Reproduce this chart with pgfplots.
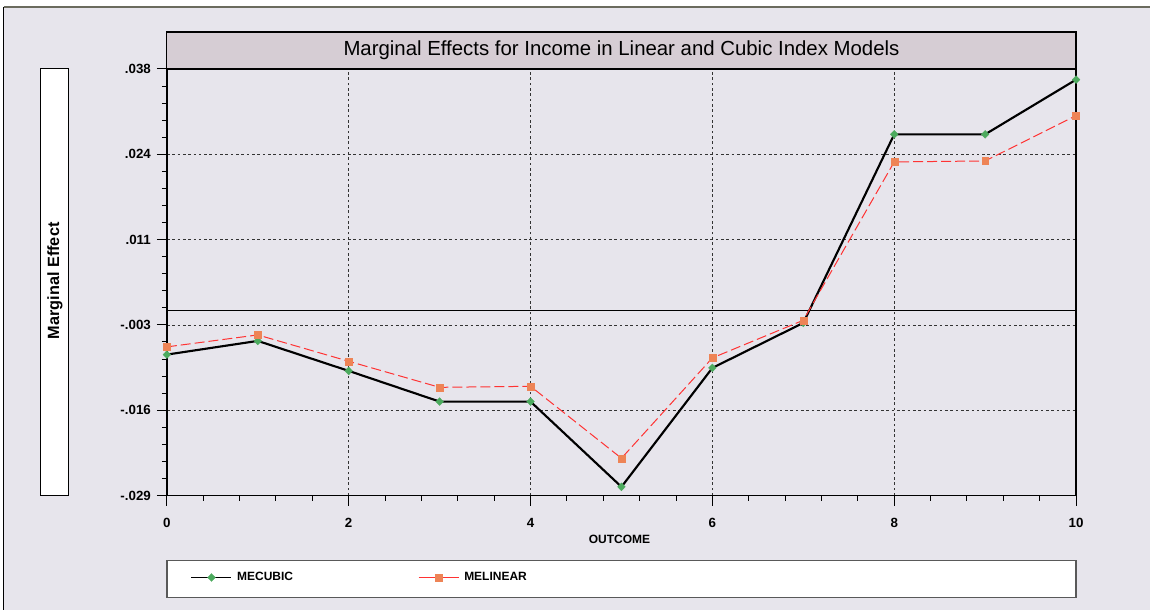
\documentclass[border=0pt]{standalone}
\usepackage{pgfplots}
\pgfplotsset{compat=1.18}
\usepackage{fontspec}
\setmainfont{Liberation Sans}

\definecolor{bgpanel}{HTML}{E7E5EC}
\definecolor{titlebar}{HTML}{D6CDD4}
\definecolor{cubicgreen}{HTML}{4CAA5E}
\definecolor{linorange}{HTML}{EE8456}
\definecolor{linred}{HTML}{FF3333}
\definecolor{framegray}{HTML}{6B6B5E}

\begin{document}
\begin{tikzpicture}
% panel, title bar, y-label box and legend box (1 unit = 1 px of the reference)
\begin{scope}[x=0.75pt,y=-0.75pt]
  \fill[white] (0,0) rectangle (1151,611);
  \fill[bgpanel] (4,7) rectangle (1151,611);
  \draw[black, line width=0.75pt] (4,7) -- (4,611);
  \draw[framegray, line width=1.5pt] (4,7) -- (1151,7);
  \draw[black, fill=titlebar, line width=0.9pt] (167,32) rectangle (1077,69);
  \node[font=\fontsize{15.3}{18}\selectfont] at (622,50.5)
    {Marginal Effects for Income in Linear and Cubic Index Models};
  \draw[black, fill=white, line width=0.75pt] (41,69) rectangle (69,496);
  \node[rotate=90, font=\bfseries\fontsize{12.2}{14}\selectfont] at (55,281) {Marginal Effect};
  \draw[black!65, fill=white, line width=1pt] (167,561) rectangle (1077,598);
\end{scope}

\begin{axis}[
    at={(125.25pt,-372pt)}, anchor=south west,
    width=682.5pt, height=320.25pt, scale only axis,
    xmin=0, xmax=10, ymin=-0.029, ymax=0.038,
    xtick={0,2,...,10}, minor x tick num=4,
    ytick={-0.029,-0.0156,-0.0022,0.0112,0.0246,0.038},
    yticklabels={-.029,-.016,-.003,.011,.024,.038},
    scaled y ticks=false,
    minor y tick num=4,
    tick pos=left,
    tick align=outside,
    major tick length=7.5pt, minor tick length=3.75pt,
    xmajorgrids, ymajorgrids,
    major grid style={black!80, dash pattern=on 2pt off 2pt, line width=0.6pt},
    axis line style={line width=1.2pt},
    tick style={black, line width=0.75pt},
    ticklabel style={font=\bfseries\fontsize{10}{11}\selectfont},
    xticklabel style={yshift=-6pt},
    yticklabel style={xshift=-1pt},
    /pgf/number format/assume math mode=true,
    xlabel={OUTCOME},
    xlabel style={font=\bfseries\fontsize{9}{10}\selectfont,
      at={(axis description cs:0.4978,-0.1030)}, anchor=center},
    legend columns=2,
    legend style={at={(axis description cs:0.02637,-0.192)}, anchor=west,
      draw=none, fill=none, inner sep=0pt, outer sep=0pt,
      font=\bfseries\fontsize{9}{10}\selectfont, nodes={inner sep=0pt},
      /tikz/every odd column/.append style={column sep=3.75pt}},
    legend image code/.code={\draw[mark repeat=2,mark phase=2,#1,solid,line width=1pt]
      plot coordinates {(0pt,0pt) (15pt,0pt) (30pt,0pt)};},
]
\draw[black, line width=0.75pt] (axis cs:0,0) -- (axis cs:10,0);

% MECUBIC
\addplot[black, line width=1.6pt, mark=diamond*, mark size=3pt,
  mark options={fill=cubicgreen, draw=cubicgreen, solid, line width=0.2pt, xscale=1.3}]
  coordinates {(0,-0.00686) (1,-0.00471) (2,-0.00942) (3,-0.01424) (4,-0.01424)
    (5,-0.02763) (6,-0.00895) (7,-0.00188) (8,0.02773) (9,0.02773) (10,0.03632)};
\addlegendentry{\makebox[135.75pt][l]{MECUBIC}}

% MELINEAR
\addplot[linred, line width=0.75pt, dash pattern=on 7.5pt off 3pt, mark=square*, mark size=2.6pt,
  mark options={fill=linorange, draw=linorange, solid, line width=0.2pt}]
  coordinates {(0,-0.00565) (1,-0.00377) (2,-0.00791) (3,-0.01200) (4,-0.01184)
    (5,-0.02314) (6,-0.00738) (7,-0.00147) (8,0.02340) (9,0.02355) (10,0.03067)};
\addlegendentry{MELINEAR}
\end{axis}
\end{tikzpicture}
\end{document}
